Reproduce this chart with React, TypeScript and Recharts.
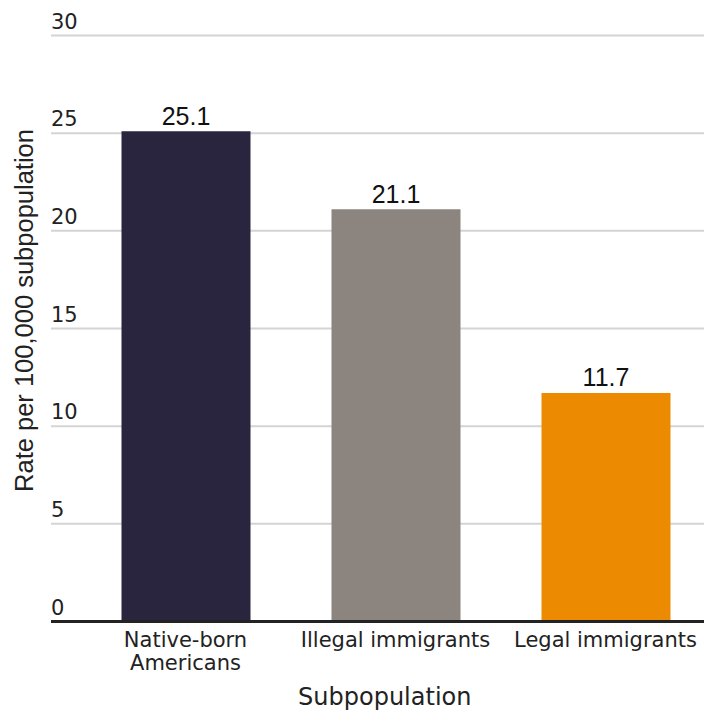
import React from "react";
import {
  BarChart,
  Bar,
  XAxis,
  YAxis,
  CartesianGrid,
  ReferenceLine,
  LabelList,
  Cell,
} from "recharts";

// Rate per 100,000 of each subpopulation
const categories: string[] = ["Native-born\nAmericans", "Illegal immigrants", "Legal immigrants"];
const rates: number[] = [25.1, 21.1, 11.7];
const barColors: string[] = ["#2a253e", "#8c857f", "#ec8a02"];
const yTicks: number[] = [0, 5, 10, 15, 20, 25, 30];
const yTitle = "Rate per 100,000 subpopulation";
const xTitle = "Subpopulation";

const data = categories.map((name, i) => ({ name, rate: rates[i] }));

const TEXT = "#222";
const TICK_FONT = "'DejaVu Sans', sans-serif";
const VALUE_FONT = "'Liberation Sans', Arial, sans-serif";

const YTick = (props: any) => {
  const { x, y, payload } = props;
  return (
    <text x={x} y={y - 7} textAnchor="start" fontFamily={TICK_FONT} fontSize={21} fill={TEXT}>
      {payload.value}
    </text>
  );
};

const XTick = (props: any) => {
  const { x, y, payload } = props;
  const lines = String(payload.value).split("\n");
  return (
    <text x={x} y={y} textAnchor="middle" fontFamily={TICK_FONT} fontSize={21} fill={TEXT}>
      {lines.map((l, i) => (
        <tspan key={i} x={x} dy={i === 0 ? 25.5 : 23}>
          {l}
        </tspan>
      ))}
    </text>
  );
};

export default function App() {
  return (
    <div
      style={{
        position: "absolute",
        left: 0,
        top: 0,
        width: 704,
        height: 711,
        overflow: "hidden",
        background: "#fff",
      }}
    >
      <BarChart
        width={720}
        height={711}
        data={data}
        margin={{ top: 35.5, right: 9.5, bottom: 0, left: 0 }}
      >
        <CartesianGrid vertical={false} stroke="#d4d4d4" strokeWidth={2} />
        <XAxis
          dataKey="name"
          axisLine={false}
          tickLine={false}
          tickSize={0}
          tickMargin={0}
          height={89.5}
          padding={{ left: 29.5, right: 0 }}
          tick={<XTick />}
          interval={0}
          label={{
            content: (p: any) => {
              const vb = p.viewBox;
              return (
                <text
                  x={vb.x + vb.width / 2 + 4}
                  y={vb.y + 83}
                  textAnchor="middle"
                  fontFamily={TICK_FONT}
                  fontSize={24}
                  fill={TEXT}
                >
                  {xTitle}
                </text>
              );
            },
          }}
        />
        <YAxis
          domain={[0, 30]}
          ticks={yTicks}
          width={51}
          axisLine={false}
          tickLine={false}
          tickSize={0}
          tickMargin={0}
          tick={<YTick />}
          label={{
            content: (p: any) => {
              const vb = p.viewBox;
              const cy = vb.y + vb.height / 2 - 18;
              return (
                <text
                  x={33}
                  y={cy}
                  transform={`rotate(-90, 33, ${cy})`}
                  textAnchor="middle"
                  fontFamily={VALUE_FONT}
                  fontSize={25.5}
                  fill={TEXT}
                >
                  {yTitle}
                </text>
              );
            },
          }}
        />
        <Bar dataKey="rate" barSize={129} isAnimationActive={false}>
          {data.map((d, i) => (
            <Cell key={d.name} fill={barColors[i]} />
          ))}
          <LabelList
            dataKey="rate"
            position="top"
            offset={6.5}
            fontFamily={VALUE_FONT}
            fontSize={25}
            fill="#111"
            formatter={(v: any) => Number(v).toFixed(1)}
          />
        </Bar>
        <ReferenceLine y={0} stroke="#232323" strokeWidth={3} />
      </BarChart>
    </div>
  );
}
